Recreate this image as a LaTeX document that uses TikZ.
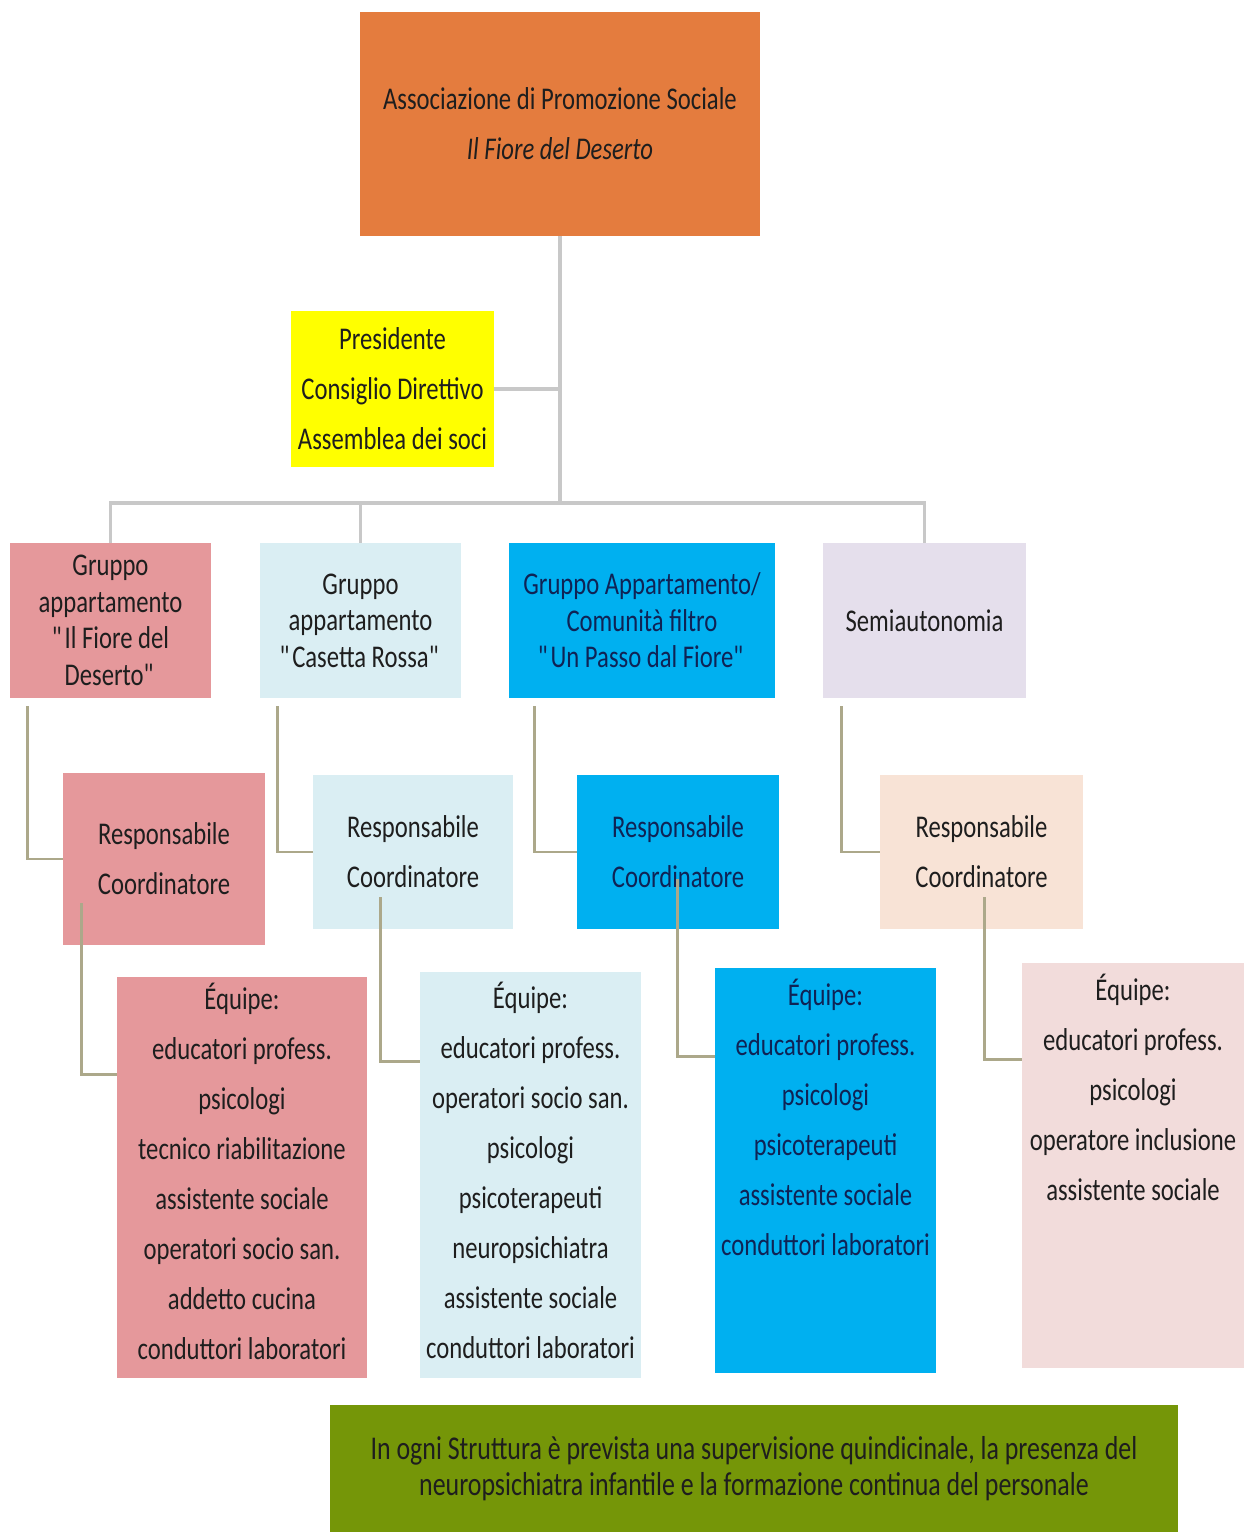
\documentclass[tikz,border=0pt]{standalone}
\usepackage{fontspec}
\setmainfont{Carlito}[FakeStretch=0.78]
\usepackage{tikz}
\usetikzlibrary{calc}
\definecolor{apscolor}{RGB}{228,124,62}
\definecolor{boardcolor}{RGB}{255,255,0}
\definecolor{fiorecolor}{RGB}{229,152,155}
\definecolor{rossacolor}{RGB}{218,238,243}
\definecolor{passocolor}{RGB}{0,176,240}
\definecolor{semicolor}{RGB}{229,223,236}
\definecolor{respcolor}{RGB}{248,227,214}
\definecolor{semieqcolor}{RGB}{242,220,219}
\definecolor{notecolor}{RGB}{117,150,8}
\definecolor{inkcolor}{RGB}{30,30,30}
\definecolor{navycolor}{RGB}{15,35,85}
\definecolor{trunkcolor}{RGB}{200,200,200}
\definecolor{linkcolor}{RGB}{172,168,138}

\begin{document}
\begin{tikzpicture}[
    x=0.02cm, y=-0.02cm,
    box/.style={rectangle, inner sep=0pt, align=center, text=inkcolor, font=\fontsize{18}{28.45}\selectfont},
    grpbox/.style={box, minimum height=3.1cm, font=\fontsize{18}{20.8}\selectfont},
    respbox/.style={box, minimum height=3.08cm},
    eqbox/.style={rectangle, inner sep=0pt, minimum height=8.1cm},
    eqtext/.style={box, anchor=north},
    trunk/.style={draw=trunkcolor, line width=2pt},
    link/.style={draw=linkcolor, line width=1.6pt}
]
\useasboundingbox (0,0) rectangle (1244,1532);

% Association and board
\node[box, fill=apscolor, minimum width=8cm, minimum height=4.48cm] (top) at (560,124)
    {Associazione di Promozione Sociale\\\textit{Il Fiore del Deserto}};
\node[box, fill=boardcolor, minimum width=4.06cm, minimum height=3.12cm] (pres) at (392.5,389)
    {Presidente\\Consiglio Direttivo\\Assemblea dei soci};
\coordinate (bus) at (560,503);

% 1. Il Fiore del Deserto
\node[grpbox, fill=fiorecolor, minimum width=4.02cm] (g1) at (110.5,620.5)
    {Gruppo\\appartamento\\\textquotedbl Il Fiore del\\Deserto\textquotedbl};
\node[respbox, fill=fiorecolor, minimum width=4.04cm, minimum height=3.44cm] (r1) at (164,859)
    {Responsabile\\Coordinatore};
\node[eqbox, fill=fiorecolor, minimum width=5cm, minimum height=8.02cm] (e1) at (242,1177.5) {};
\node[eqtext] (l1) at ($(e1.north)+(0,6)$)
    {Équipe:\\educatori profess.\\psicologi\\tecnico riabilitazione\\assistente sociale\\operatori socio san.\\addetto cucina\\conduttori laboratori};

% 2. Casetta Rossa
\node[grpbox, fill=rossacolor, minimum width=4.02cm] (g2) at (360.5,620.5)
    {Gruppo\\appartamento\\\textquotedbl Casetta Rossa\textquotedbl};
\node[respbox, fill=rossacolor, minimum width=4cm] (r2) at (413,852)
    {Responsabile\\Coordinatore};
\node[eqbox, fill=rossacolor, minimum width=4.42cm, minimum height=8.12cm] (e2) at (530.5,1175) {};
\node[eqtext] (l2) at ($(e2.north)+(0,10)$)
    {Équipe:\\educatori profess.\\operatori socio san.\\psicologi\\psicoterapeuti\\neuropsichiatra\\assistente sociale\\conduttori laboratori};

% 3. Un Passo dal Fiore
\node[grpbox, fill=passocolor, text=navycolor, minimum width=5.32cm] (g3) at (642,620.5)
    {Gruppo Appartamento/\\Comunità filtro\\\textquotedbl Un Passo dal Fiore\textquotedbl};
\node[respbox, fill=passocolor, text=navycolor, minimum width=4.04cm] (r3) at (678,852)
    {Responsabile\\Coordinatore};
\node[eqbox, fill=passocolor, minimum width=4.42cm] (e3) at (825.5,1170.5) {};
\node[eqtext, text=navycolor] (l3) at ($(e3.north)+(0,11)$)
    {Équipe:\\educatori profess.\\psicologi\\psicoterapeuti\\assistente sociale\\conduttori laboratori};

% 4. Semiautonomia
\node[grpbox, fill=semicolor, minimum width=4.06cm] (g4) at (924.5,620.5) {Semiautonomia};
\node[respbox, fill=respcolor, minimum width=4.06cm] (r4) at (981.5,852)
    {Responsabile\\Coordinatore};
\node[eqbox, fill=semieqcolor, minimum width=4.44cm] (e4) at (1133,1165.5) {};
\node[eqtext] (l4) at ($(e4.north)+(0,11)$)
    {Équipe:\\educatori profess.\\psicologi\\operatore inclusione\\assistente sociale};

% Note
\node[box, fill=notecolor, minimum width=16.96cm, minimum height=2.54cm, font=\fontsize{18.9}{20.5}\selectfont] (note) at (754,1468.5)
    {In ogni Struttura è prevista una supervisione quindicinale, la presenza del\\neuropsichiatra infantile e la formazione continua del personale};

% Connectors
\draw[trunk] (top.south) -- (bus);
\draw[trunk] (pres.east) -- (pres.east -| top.south);
\draw[trunk] (g1.north) |- (bus) -| (g4.north);
\draw[trunk] (g2.north) -- (g2.north |- bus);

\draw[link] ($(g1.south west)+(18,8)$) |- (r1.west);
\draw[link] ($(g2.south west)+(18,8)$) |- (r2.west);
\draw[link] ($(g3.south west)+(26,8)$) |- (r3.west);
\draw[link] ($(g4.south west)+(19,8)$) |- (r4.west);

\draw[link] ($(r1.south west)+(19,-42)$) |- ($(e1.north west)+(0,98)$);
\draw[link] ($(r2.south west)+(68,-32)$) |- ($(e2.north west)+(0,90)$);
\draw[link] ($(r3.south west)+(101,-50)$) |- ($(e3.north west)+(0,89)$);
\draw[link] ($(r4.south west)+(105,-32)$) |- ($(e4.north west)+(0,97)$);

\end{tikzpicture}
\end{document}
